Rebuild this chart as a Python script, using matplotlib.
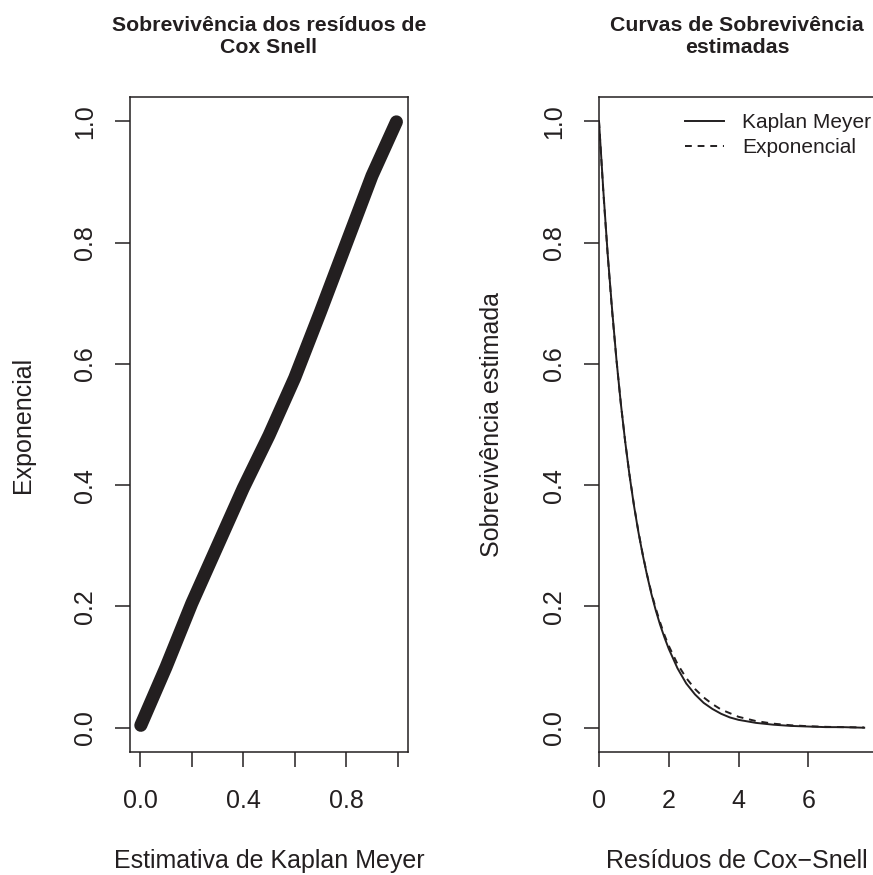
import matplotlib
matplotlib.use("Agg")
import matplotlib.pyplot as plt

plt.rcParams["font.family"] = ["Liberation Sans", "DejaVu Sans"]

INK = "#231f20"
W, H = 873, 875

# left panel: Kaplan-Meier estimate vs exponential survival of the Cox-Snell residuals
km_est = [0.002, 0.1, 0.2, 0.3, 0.4, 0.5, 0.6, 0.7, 0.8, 0.9, 0.995]
exp_est = [0.004, 0.10, 0.205, 0.30, 0.395, 0.482, 0.577, 0.686, 0.798, 0.91, 0.999]

# right panel: survival curves over the residuals
resid = [0.0, 0.125, 0.25, 0.375, 0.5, 0.625, 0.75, 0.875, 1.0, 1.125, 1.25,
         1.375, 1.5, 1.625, 1.75, 1.875, 2.0, 2.25, 2.5, 2.75, 3.0, 3.25, 3.5,
         3.75, 4.0, 4.5, 5.0, 5.5, 6.0, 6.5, 7.0, 7.6]
surv_km = [1.0, 0.885, 0.78, 0.69, 0.607, 0.535, 0.472, 0.416, 0.367, 0.324,
           0.286, 0.252, 0.221, 0.194, 0.170, 0.149, 0.130, 0.098, 0.073, 0.055,
           0.041, 0.031, 0.023, 0.017, 0.013, 0.008, 0.005, 0.003, 0.002, 0.001,
           0.001, 0.0]
surv_exp = [1.0, 0.882, 0.779, 0.687, 0.607, 0.535, 0.472, 0.417, 0.368, 0.325,
            0.287, 0.253, 0.223, 0.197, 0.174, 0.153, 0.135, 0.105, 0.082, 0.064,
            0.050, 0.039, 0.030, 0.024, 0.018, 0.011, 0.0067, 0.0041, 0.0025,
            0.0015, 0.0009, 0.0005]

LABEL_FS = 18
TITLE_FS = 15.3
LEGEND_FS = 15


def px_axes(fig, x0, x1, y0, y1):
    # pixel box (top-left origin) -> figure fraction
    return fig.add_axes([x0 / W, 1 - y1 / H, (x1 - x0) / W, (y1 - y0) / H])


def style_axes(ax):
    for sp in ax.spines.values():
        sp.set_linewidth(1.1)
        sp.set_color(INK)
    ax.tick_params(direction="out", length=10.8, width=1.1, color=INK,
                   labelsize=LABEL_FS, labelcolor=INK)
    ax.tick_params(axis="x", pad=16)
    ax.tick_params(axis="y", pad=13)
    for lab in ax.get_yticklabels():
        lab.set_rotation(90)
        lab.set_va("center")


fig = plt.figure(figsize=(W / 100, H / 100), dpi=100)

ax1 = px_axes(fig, 130, 408, 97, 752)
ax1.plot(km_est, exp_est, color=INK, lw=9.4, solid_capstyle="round",
         solid_joinstyle="round")
ax1.set_xlim(-0.04, 1.04)
ax1.set_ylim(-0.04, 1.04)
ax1.set_xticks([0, 0.2, 0.4, 0.6, 0.8, 1.0])
ax1.set_xticklabels(["0.0", "", "0.4", "", "0.8", ""])
ax1.set_yticks([0, 0.2, 0.4, 0.6, 0.8, 1.0])
ax1.set_yticklabels(["0.0", "0.2", "0.4", "0.6", "0.8", "1.0"])
style_axes(ax1)
ax1.set_xlabel("Estimativa de Kaplan Meyer", fontsize=LABEL_FS, color=INK, labelpad=26)
ax1.set_ylabel("Exponencial", fontsize=LABEL_FS, color=INK, labelpad=27.5)
ax1.set_title("Sobrevivência dos resíduos de\nCox Snell", fontsize=TITLE_FS,
              fontweight="bold", color=INK, pad=32)

ax2 = px_axes(fig, 599, 875, 97, 752)
ax2.plot(resid, surv_km, color=INK, lw=1.4, label="Kaplan Meyer")
ax2.plot(resid, surv_exp, color=INK, lw=1.4, dashes=(3.5, 3), label="Exponencial")
ax2.set_xlim(0, 7.91)
ax2.set_ylim(-0.04, 1.04)
ax2.set_xticks([0, 2, 4, 6])
ax2.set_yticks([0, 0.2, 0.4, 0.6, 0.8, 1.0])
ax2.set_yticklabels(["0.0", "0.2", "0.4", "0.6", "0.8", "1.0"])
style_axes(ax2)
ax2.set_xlabel("Resíduos de Cox\u2212Snell", fontsize=LABEL_FS, color=INK, labelpad=26)
ax2.set_ylabel("Sobrevivência estimada", fontsize=LABEL_FS, color=INK, labelpad=27.5)
ax2.set_title("Curvas de Sobrevivência\nestimadas", fontsize=TITLE_FS,
              fontweight="bold", color=INK, pad=32)
leg = ax2.legend(loc="upper right", bbox_to_anchor=(871 / W, 1 - 113 / H),
                 bbox_transform=fig.transFigure, frameon=False, fontsize=LEGEND_FS,
                 handlelength=1.86, handletextpad=0.86, labelspacing=0.3,
                 borderpad=0, borderaxespad=0)
for t in leg.get_texts():
    t.set_color(INK)

fig.savefig("out.png", dpi=100)
